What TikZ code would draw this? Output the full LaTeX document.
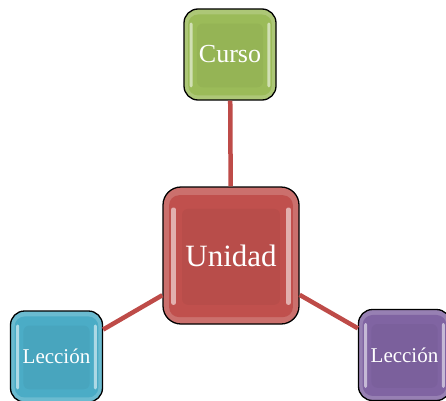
\documentclass[tikz,border=0pt]{standalone}
\usepackage{fontspec}
\setmainfont{Liberation Serif}
\usetikzlibrary{calc}
\definecolor{cRed}{RGB}{192,80,77}
\definecolor{cGreen}{RGB}{155,187,89}
\definecolor{cBlue}{RGB}{75,172,198}
\definecolor{cPurple}{RGB}{128,100,162}
\definecolor{cLine}{RGB}{190,75,72}
\tikzset{
  glossbox/.style={draw=black, line width=1.3pt,
    fill=#1!82!white, text=white, inner sep=0pt,
    path picture={
      \path (path picture bounding box.south west) coordinate (pa)
            (path picture bounding box.north east) coordinate (pb);
      \fill[#1, rounded corners=10pt] let \p1=(pa), \p2=(pb), \n1={\x2-\x1}, \n2={\y2-\y1} in
        (\x1+0.045*\n1, \y1+0.05*\n2) rectangle (\x2-0.045*\n1, \y2-0.06*\n2);
      \fill[#1!96!black, rounded corners=6pt] let \p1=(pa), \p2=(pb), \n1={\x2-\x1}, \n2={\y2-\y1} in
        (\x1+0.14*\n1, \y1+0.14*\n2) rectangle (\x2-0.14*\n1, \y2-0.16*\n2);
      \fill[white, opacity=.55, rounded corners=2pt] let \p1=(pa), \p2=(pb), \n1={\x2-\x1}, \n2={\y2-\y1} in
        (\x1+0.06*\n1, \y1+0.14*\n2) rectangle (\x1+0.095*\n1, \y2-0.15*\n2);
      \fill[white, opacity=.55, rounded corners=2pt] let \p1=(pa), \p2=(pb), \n1={\x2-\x1}, \n2={\y2-\y1} in
        (\x2-0.095*\n1, \y1+0.14*\n2) rectangle (\x2-0.06*\n1, \y2-0.15*\n2);
    }},
  bigbox/.style={glossbox=#1, rounded corners=18pt, minimum width=136pt, minimum height=137pt, font=\fontsize{31}{36}\selectfont},
  smallbox/.style={glossbox=#1, rounded corners=14pt, minimum width=92pt, minimum height=91pt},
  conn/.style={draw=cLine, line width=4.5pt},
}
\begin{document}
\begin{tikzpicture}[x=1pt,y=1pt]
\useasboundingbox (0,0) rectangle (446,400);
\node[bigbox=cRed] (unidad) at (231,144.5) {Unidad};
\node[smallbox=cGreen, font=\fontsize{26}{30}\selectfont] (curso) at (230,345.5) {Curso};
\node[smallbox=cBlue, font=\fontsize{21}{25}\selectfont] (lec1) at (56.5,43.5) {Lección};
\node[smallbox=cPurple, font=\fontsize{21}{25}\selectfont] (lec2) at (404.5,45) {Lección};
\draw[conn] (unidad) -- (curso);
\draw[conn] (unidad) -- (lec1);
\draw[conn] (unidad) -- (lec2);
\end{tikzpicture}
\end{document}
